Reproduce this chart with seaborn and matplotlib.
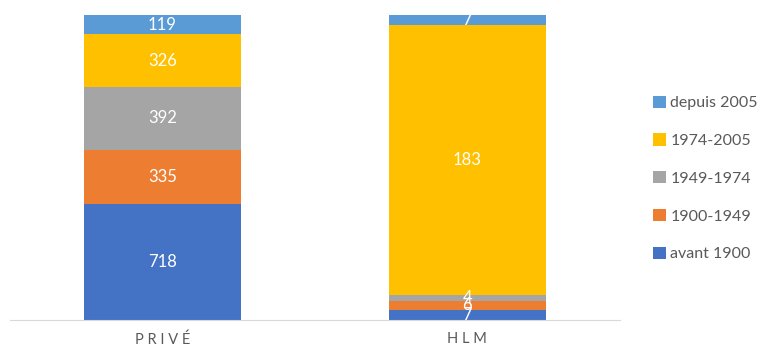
import numpy as np
import pandas as pd
import matplotlib
matplotlib.use("Agg")
import matplotlib.pyplot as plt
import seaborn as sns

sns.set_style("white")
plt.rcParams['font.family'] = ['Lato', 'DejaVu Sans']

# data
categories = ["PRIVÉ", "HLM"]
periods = ["avant 1900", "1900-1949", "1949-1974", "1974-2005", "depuis 2005"]
avant_1900 = [718, 7]
p1900_1949 = [335, 6]
p1949_1974 = [392, 4]
p1974_2005 = [326, 183]
depuis_2005 = [119, 7]
colors = ["#4472C4", "#ED7D31", "#A5A5A5", "#FFC000", "#5B9BD5"]

counts = pd.DataFrame(
    [avant_1900, p1900_1949, p1949_1974, p1974_2005, depuis_2005],
    index=periods, columns=categories)
shares = counts / counts.sum(axis=0)

fig = plt.figure(figsize=(7.71, 3.5), dpi=100)
ax = fig.add_axes([0.013, 0.086, 0.791, 0.871])

bottom = np.zeros(len(categories))
for period, color in zip(periods, colors):
    sns.barplot(x=categories, y=shares.loc[period].values, bottom=bottom,
                color=color, width=0.513, ax=ax, label=period,
                saturation=1, linewidth=0)
    for i, cat in enumerate(categories):
        ax.text(i, bottom[i] + shares.loc[period, cat] / 2,
                str(counts.loc[period, cat]), ha="center", va="center",
                color="white", fontsize=12)
    bottom = bottom + shares.loc[period].values

ax.set_xlim(-0.5, 1.5)
ax.set_ylim(0, 1)
ax.set_yticks([])
ax.set_xticks(range(len(categories)))
ax.set_xticklabels([" ".join(c) for c in categories], color="#595959", fontsize=10.5)
ax.tick_params(axis="x", length=0, pad=9)
for s in ["top", "left", "right"]:
    ax.spines[s].set_visible(False)
ax.spines["bottom"].set_color("#D9D9D9")
ax.set_ylabel("")

handles, labels = ax.get_legend_handles_labels()
if ax.get_legend() is not None:
    ax.get_legend().remove()
fig.legend(handles[::-1], labels[::-1], loc="center left",
           bbox_to_anchor=(0.828, 0.49), frameon=False, fontsize=11.5,
           labelcolor="#595959", handlelength=0.8, handleheight=0.8,
           handletextpad=0.3, labelspacing=1.45)

fig.savefig("out.png", dpi=100)
